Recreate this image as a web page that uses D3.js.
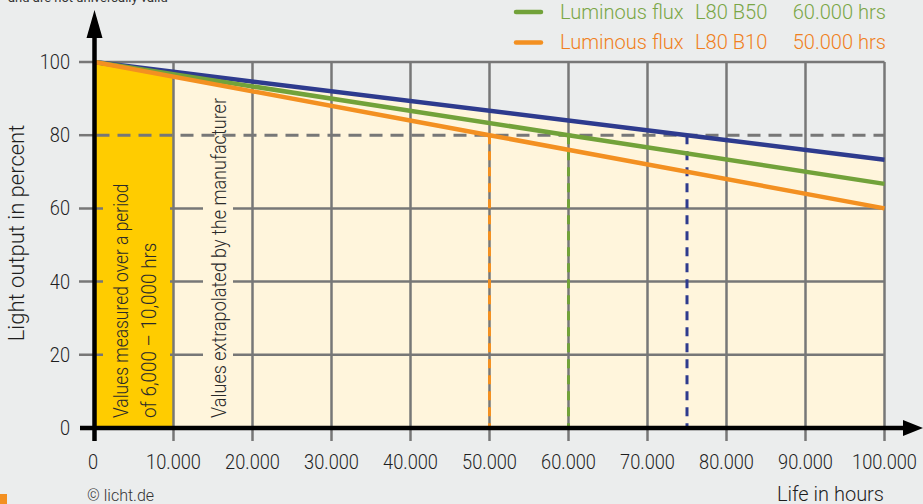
<!DOCTYPE html>
<html>
<head>
<meta charset="utf-8">
<script src="https://cdn.jsdelivr.net/npm/d3@7"></script>
<style>
  html, body { margin: 0; padding: 0; background: #ebeded; }
  svg { display: block; font-family: Roboto, "Liberation Sans", sans-serif; }
</style>
</head>
<body>
<svg id="chart" width="923" height="504"></svg>
<script>
// Life-time degradation of LED luminous flux
const xTickValues = [0, 10000, 20000, 30000, 40000, 50000, 60000, 70000, 80000, 90000, 100000];
const xTickLabels = ["0", "10.000", "20.000", "30.000", "40.000", "50.000", "60.000", "70.000", "80.000", "90.000", "100.000"];
const yTickValues = [0, 20, 40, 60, 80, 100];
const yTickLabels = ["0", "20", "40", "60", "80", "100"];

// [hours, percent] points along each curve
const blueSeries   = [[0, 100], [75000, 80], [100000, 73.3]];
const greenSeries  = [[0, 100], [60000, 80], [100000, 66.7]];
const orangeSeries = [[0, 100], [50000, 80], [100000, 60]];

// hours at which each curve reaches the L80 threshold
const l80Hours = [50000, 60000, 75000];
const l80Colors = ["#f39021", "#72a23a", "#2e3b8e"];
const threshold = 80;
const measuredEnd = 10000;

const legendRows = [
  { name: "Luminous flux", code: "L80 B50", life: "60.000 hrs", color: "#72a23a", text: "#7aa646" },
  { name: "Luminous flux", code: "L80 B10", life: "50.000 hrs", color: "#f39021", text: "#f08020" }
];

const svg = d3.select("#chart");
const x = d3.scaleLinear().domain([0, 100000]).range([94.5, 884.5]);
const y = d3.scaleLinear().domain([0, 100]).range([428, 62]);

const GRID = "#777777";
const CREAM = "#fff5dc";
const YELLOW = "#ffcc00";

// condensed-looking text: font size plus horizontal squeeze
function ctext(parent, px, py, str, opts = {}) {
  const size = opts.size || 20, sx = opts.sx || 1, rot = opts.rot || 0;
  return parent.append("text")
    .attr("transform", `translate(${px},${py})${rot ? ` rotate(${rot})` : ""} scale(${sx},1)`)
    .attr("font-size", size)
    .attr("font-weight", opts.weight || 300)
    .attr("text-anchor", opts.anchor || "start")
    .attr("fill", opts.fill || "#1e1e1e")
    .text(str);
}

// cream area below the top (blue) curve
svg.append("path")
  .datum(blueSeries)
  .attr("fill", CREAM)
  .attr("d", d3.area().x(d => x(d[0])).y0(y(0)).y1(d => y(d[1])));

// measured period, below the lowest (orange) curve
const measured = [[0, 100], [measuredEnd, 100 - (100 - 60) * measuredEnd / 100000]];
svg.append("path")
  .datum(measured)
  .attr("fill", YELLOW)
  .attr("d", d3.area().x(d => x(d[0])).y0(y(0)).y1(d => y(d[1])));

// horizontal grid lines (80 is drawn dashed later)
const g = svg.append("g");
g.selectAll("line.h")
  .data(yTickValues.filter(v => v !== 0 && v !== threshold))
  .join("line")
  .attr("x1", 79).attr("x2", x(100000))
  .attr("y1", d => y(d)).attr("y2", d => y(d))
  .attr("stroke", GRID).attr("stroke-width", 2.5);
// tick stub at 80
g.append("line")
  .attr("x1", 79).attr("x2", x(0))
  .attr("y1", y(threshold)).attr("y2", y(threshold))
  .attr("stroke", GRID).attr("stroke-width", 2.5);

// vertical grid lines
g.selectAll("line.v")
  .data(xTickValues.filter(v => v !== 0))
  .join("line")
  .attr("x1", d => x(d)).attr("x2", d => x(d))
  .attr("y1", y(100)).attr("y2", 441)
  .attr("stroke", GRID).attr("stroke-width", 2.5);

// backgrounds behind the vertical captions
svg.append("rect").attr("x", 103).attr("y", 170).attr("width", 67).attr("height", 255).attr("fill", YELLOW);
svg.append("rect").attr("x", 203).attr("y", 100).attr("width", 30).attr("height", 325).attr("fill", CREAM);

// captions
const capOpts = { size: 21, sx: 0.83, rot: -90, fill: "#2a2a2a" };
ctext(svg, 128, 418, "Values measured over a period", capOpts);
ctext(svg, 156, 418, "of 6,000 \u2013 10,000 hrs", { ...capOpts, sx: 0.9 });
ctext(svg, 226, 418, "Values extrapolated by the manufacturer", { ...capOpts, sx: 0.86 });

// L80 threshold line
svg.append("line")
  .attr("x1", x(0) + 2).attr("x2", x(100000))
  .attr("y1", y(threshold)).attr("y2", y(threshold))
  .attr("stroke", GRID).attr("stroke-width", 3)
  .attr("stroke-dasharray", "13,8");

// dashed drop lines at the L80 lifetimes
svg.selectAll("line.l80")
  .data(l80Hours)
  .join("line")
  .attr("x1", d => x(d)).attr("x2", d => x(d))
  .attr("y1", y(threshold)).attr("y2", y(0))
  .attr("stroke", (d, i) => l80Colors[i])
  .attr("stroke-width", 3)
  .attr("stroke-dasharray", "9,7");

// degradation curves
const line = d3.line().x(d => x(d[0])).y(d => y(d[1]));
[[blueSeries, "#2e3b8e"], [greenSeries, "#72a23a"], [orangeSeries, "#f39021"]].forEach(([s, c]) => {
  svg.append("path").datum(s)
    .attr("fill", "none").attr("stroke", c).attr("stroke-width", 4.5)
    .attr("d", line);
});

// axes
svg.append("line").attr("x1", 80).attr("x2", 905).attr("y1", y(0)).attr("y2", y(0))
  .attr("stroke", "#000").attr("stroke-width", 4.5);
svg.append("path").attr("d", `M903,${y(0) - 8}L923,${y(0)}L903,${y(0) + 8}Z`).attr("fill", "#000");
svg.append("line").attr("x1", x(0)).attr("x2", x(0)).attr("y1", 441).attr("y2", 35)
  .attr("stroke", "#000").attr("stroke-width", 4.5);
svg.append("path").attr("d", `M${x(0) - 8},38L${x(0)},10L${x(0) + 8},38Z`).attr("fill", "#000");

// tick labels
const tickOpts = { size: 20, sx: 0.91 };
yTickValues.forEach((v, i) => ctext(svg, 70, y(v) + 7, yTickLabels[i], { ...tickOpts, anchor: "end" }));
xTickValues.forEach((v, i) => ctext(svg, i === 0 ? x(v) - 1.5 : x(v), 469, xTickLabels[i], { ...tickOpts, anchor: "middle" }));

// axis titles
ctext(svg, 24, 233, "Light output in percent", { size: 22, sx: 1, rot: -90, anchor: "middle" });
ctext(svg, 884, 501, "Life in hours", { size: 20, sx: 1, anchor: "end" });

// legend
legendRows.forEach((r, i) => {
  const ly = 12 + i * 30.5;
  svg.append("line").attr("x1", 516).attr("x2", 541).attr("y1", ly).attr("y2", ly)
    .attr("stroke", r.color).attr("stroke-width", 4.5).attr("stroke-linecap", "round");
  const o = { size: 20.5, sx: 0.98, fill: r.text };
  ctext(svg, 560, ly + 6.5, r.name, o);
  ctext(svg, 695, ly + 6.5, r.code, o);
  ctext(svg, 886, ly + 6.5, r.life, { ...o, anchor: "end" });
});

// note and credit
ctext(svg, 8, 2, "and are not universally valid", { size: 13, weight: 400, fill: "#333" });
ctext(svg, 87, 501, "\u00a9 licht.de", { size: 16, fill: "#333" });
svg.append("rect").attr("x", 0).attr("y", 494).attr("width", 7).attr("height", 10).attr("fill", "#f39021");
</script>
</body>
</html>
